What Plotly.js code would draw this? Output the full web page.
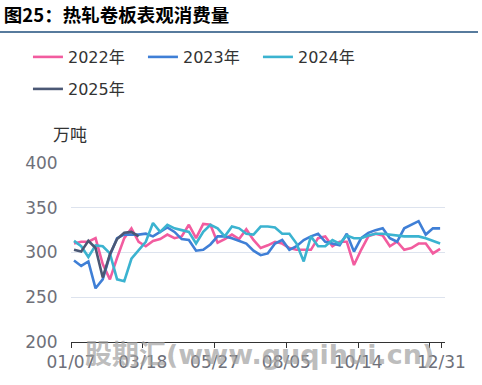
<!DOCTYPE html>
<html>
<head>
<meta charset="utf-8">
<script src="https://cdn.plot.ly/plotly-3.0.1.min.js"></script>
<style>
html,body{margin:0;padding:0;background:#fff;}
#chart{width:482px;height:385px;}
</style>
</head>
<body>
<div id="chart"></div>
<script>
// Weekly apparent consumption of hot-rolled coil (万吨)
const tickLabels = ['01/07','03/18','05/27','08/05','10/14','','12/31'];
const tickWeeks = [0,10,20,30,40,50,51.6];
const seriesNames = ['2022年','2023年','2024年','2025年'];

const v2022 = [310,312,312,316,287,270,294,316,327,312,307,313,315,320,316,318,331,316,332,331,
               311,315,320,315,326,314,305,308,312,310,305,303,303,303,316,318,307,312,312,286,
               303,318,321,319,307,312,303,305,310,310,299,304];
const v2023 = [291,285,290,260,270,297,316,320,320,320,321,318,323,328,323,315,314,302,303,309,
               318,318,316,313,310,302,297,299,310,314,303,307,314,318,321,312,310,308,321,301,
               316,322,325,327,316,312,327,331,335,320,327,327];
const v2024 = [313,307,295,308,307,299,270,268,293,303,312,333,323,331,327,325,323,310,323,331,
               327,318,329,327,321,320,329,329,328,321,321,310,290,318,307,307,314,310,319,316,
               316,319,321,321,320,319,318,318,318,316,313,310];
const v2025 = [303,301,313,305,272,298,315,322,323,318];

const colors = ['#f25c9f','#3f7fd6','#3bb3d0','#4b5875'];
const weekOffset = 0.42;
const xs = arr => arr.map((_, i) => i + weekOffset);

const data = [v2022, v2023, v2024, v2025].map((vals, k) => ({
  type: 'scatter', mode: 'lines',
  x: xs(vals), y: vals, name: seriesNames[k],
  line: {color: colors[k], width: 2.6},
  legend: k === 3 ? 'legend2' : 'legend',
  hoverinfo: 'skip'
}));

const FONT = '"DejaVu Sans", "Noto Sans CJK SC", sans-serif';

const legendCommon = {
  orientation: 'h', xref: 'container', yref: 'container',
  xanchor: 'left', yanchor: 'middle',
  font: {family: FONT, size: 16, color: '#333'},
  entrywidth: 70, entrywidthmode: 'pixels',
  bgcolor: 'rgba(0,0,0,0)', traceorder: 'normal',
  itemwidth: 30
};

const layout = {
  width: 482, height: 385,
  margin: {l: 71, r: 37, t: 163, b: 43},
  paper_bgcolor: '#fff', plot_bgcolor: '#fff',
  showlegend: true,
  legend: Object.assign({}, legendCommon, {x: 0.058, y: 1 - 57/385}),
  legend2: Object.assign({}, legendCommon, {x: 0.058, y: 1 - 89/385}),
  xaxis: {
    range: [0, 52.1], tickmode: 'array', tickvals: tickWeeks, ticktext: tickLabels,
    showgrid: false, zeroline: false,
    showline: true, linecolor: '#333', linewidth: 1,
    ticks: 'outside', ticklen: 5, tickcolor: '#333',
    tickfont: {family: FONT, size: 17, color: '#6e7079'},
    fixedrange: true
  },
  yaxis: {
    range: [200, 400], tickmode: 'array', tickvals: [200,250,300,350,400],
    showgrid: true, gridcolor: '#dde3ee', gridwidth: 1, zeroline: false,
    showline: false, ticks: 'outside', ticklen: 9, tickcolor: 'rgba(0,0,0,0)',
    tickfont: {family: FONT, size: 17, color: '#6e7079'},
    fixedrange: true
  },
  title: {
    text: '<b>图25：热轧卷板表观消费量</b>',
    x: 0.008, xanchor: 'left', xref: 'container',
    y: 1 - 16/385, yanchor: 'middle', yref: 'container',
    font: {family: '"Noto Sans CJK SC", sans-serif', size: 18.5, color: '#000'}
  },
  shapes: [{
    type: 'line', xref: 'paper', yref: 'paper',
    x0: -71/374, x1: (478-71)/374, y0: 1 + (163-32)/179, y1: 1 + (163-32)/179,
    line: {color: '#1f4f7d', width: 1.5}
  }],
  annotations: [
    {text: '万吨', xref: 'paper', yref: 'paper', x: (70-71)/374, y: 1 + (163-133)/179,
     xanchor: 'center', yanchor: 'middle', showarrow: false,
     font: {family: '"Noto Sans CJK SC", sans-serif', size: 17, color: '#333'}},
    {text: '<b>股期汇(www.guqihui.cn)</b>', xref: 'paper', yref: 'paper',
     x: (83-71)/374, y: -(354-342)/179, xanchor: 'left', yanchor: 'middle', showarrow: false,
     font: {family: FONT, size: 27, color: 'rgba(160,160,160,0.7)'}}
  ]
};

Plotly.newPlot('chart', data, layout, {staticPlot: true, displayModeBar: false});
</script>
</body>
</html>
